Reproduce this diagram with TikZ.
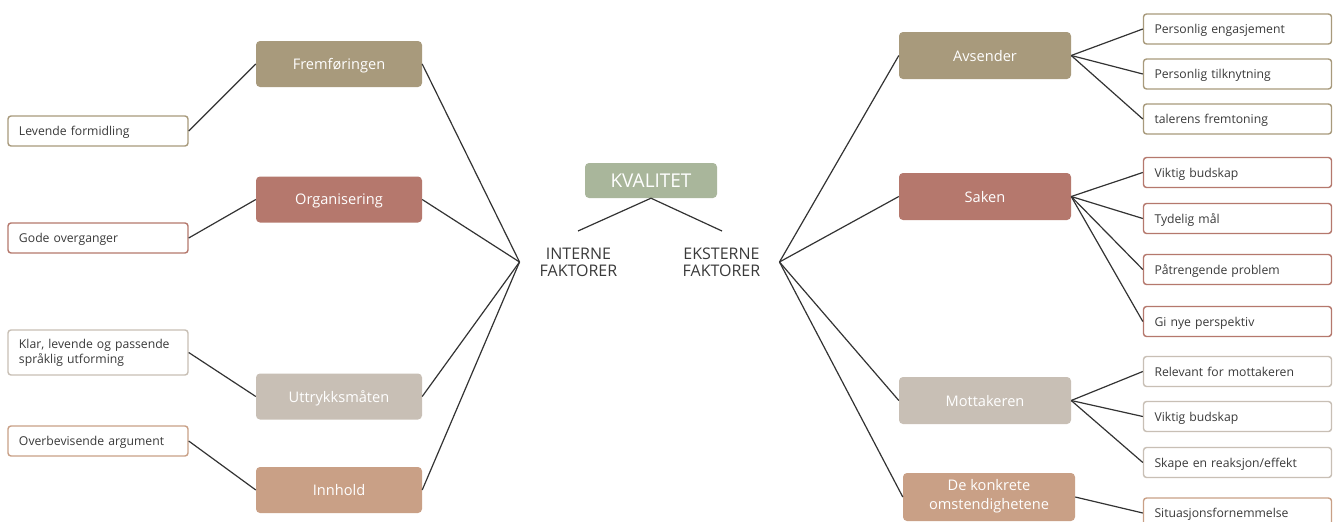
\documentclass[tikz,border=0pt]{standalone}
\usepackage{fontspec}
\setmainfont{Open Sans}
\usetikzlibrary{positioning}
\definecolor{brunC}{HTML}{A89A7C}
\definecolor{roedC}{HTML}{B5786D}
\definecolor{graaC}{HTML}{C8BFB5}
\definecolor{oransjeC}{HTML}{C9A086}
\definecolor{salvieC}{HTML}{A9B69B}
\definecolor{tekstC}{HTML}{3A3A3A}
\definecolor{strekC}{HTML}{333333}

\begin{document}
\begin{tikzpicture}[x=1pt,y=-1pt,
        hoved/.style = {rounded corners=4pt, text=white, minimum width=166pt, minimum height=46pt,
                        align=center, inner sep=2pt, text depth=0pt, font=\fontsize{14.6}{19}\selectfont},
        punkt/.style = {draw, line width=1.4pt, rounded corners=3pt, fill=white, text=tekstC,
                        minimum height=30pt, text width=158pt, inner xsep=11pt, align=left,
                        text depth=0pt, font=\fontsize{12.2}{14.5}\selectfont},
        punktH/.style = {punkt, text width=166pt},
        faktor/.style = {align=center, text=tekstC, font=\fontsize{16}{17}\selectfont},
        linje/.style = {draw=strekC, line width=1.2pt}]
        \fill[white] (0,0) rectangle (1336,522);
        \useasboundingbox (0,0) rectangle (1336,522);

        % midten
        \node[hoved,fill=salvieC,minimum width=132pt,minimum height=35pt,font=\fontsize{19}{20}\selectfont] (kval) at (651,180.5) {KVALITET};
        \coordinate (kvalV) at (578,231);
        \coordinate (kvalH) at (722,231);
        \node[faktor,inner xsep=20pt] (intern) at (578.5,262) {INTERNE\\FAKTORER};
        \node[faktor,inner xsep=19pt] (ekstern) at (721.5,262) {EKSTERNE\\FAKTORER};

        \draw[linje] (kvalV) -- (kval.south) -- (kvalH);

        % interne faktorer
        \node[hoved,fill=brunC] (frem) at (339,64) {Fremføringen};
        \node[hoved,fill=roedC] (org) at (339,199.5) {Organisering};
        \node[hoved,fill=graaC] (uttr) at (339,396.5) {Uttrykksmåten};
        \node[hoved,fill=oransjeC] (innh) at (339,490) {Innhold};

        \node[punkt,draw=brunC] (lev) at (98,131) {Levende formidling};
        \node[punkt,draw=roedC] (gode) at (98,238) {Gode overganger};
        \node[punkt,draw=graaC,minimum height=45pt,text depth=17pt] (klar) at (98,352.5) {Klar, levende og passende\\språklig utforming};
        \node[punkt,draw=oransjeC] (overb) at (98,441) {Overbevisende argument};

        \draw[linje] (lev.east) -- (frem.west);
        \draw[linje] (gode.east) -- (org.west);
        \draw[linje] (klar.east) -- (uttr.west);
        \draw[linje] (overb.east) -- (innh.west);

        \draw[linje] (frem.east) -- (intern.west);
        \draw[linje] (org.east) -- (intern.west);
        \draw[linje] (uttr.east) -- (intern.west);
        \draw[linje] (innh.east) -- (intern.west);

        % eksterne faktorer
        \node[hoved,fill=brunC,minimum width=172pt,minimum height=47pt] (avs) at (985,55.5) {Avsender};
        \node[hoved,fill=roedC,minimum width=172pt,minimum height=47pt] (sak) at (985,196.5) {Saken};
        \node[hoved,fill=graaC,minimum width=172pt,minimum height=47pt] (mott) at (985,400.5) {Mottakeren};
        \node[hoved,fill=oransjeC,minimum width=172pt,minimum height=48pt,text depth=6pt] (omst) at (989,497) {De konkrete\\omstendighetene};

        \draw[linje] (ekstern.east) -- (avs.west);
        \draw[linje] (ekstern.east) -- (sak.west);
        \draw[linje] (ekstern.east) -- (mott.west);
        \draw[linje] (ekstern.east) -- (omst.west);

        \node[punktH,draw=brunC] (eng) at (1237.5,29) {Personlig engasjement};
        \node[punktH,draw=brunC] (tilk) at (1237.5,74) {Personlig tilknytning};
        \node[punktH,draw=brunC] (frt) at (1237.5,119) {talerens fremtoning};

        \node[punktH,draw=roedC] (budA) at (1237.5,172.5) {Viktig budskap};
        \node[punktH,draw=roedC] (maal) at (1237.5,218.5) {Tydelig mål};
        \node[punktH,draw=roedC] (prob) at (1237.5,269.5) {Påtrengende problem};
        \node[punktH,draw=roedC] (persp) at (1237.5,321.5) {Gi nye perspektiv};

        \node[punktH,draw=graaC] (rel) at (1237.5,371.5) {Relevant for mottakeren};
        \node[punktH,draw=graaC] (budB) at (1237.5,416.5) {Viktig budskap};
        \node[punktH,draw=graaC] (reak) at (1237.5,462.5) {Skape en reaksjon/effekt};

        \node[punktH,draw=oransjeC] (sit) at (1237.5,513) {Situasjonsfornemmelse};

        \draw[linje] (avs.east) -- (eng.west);
        \draw[linje] (avs.east) -- (tilk.west);
        \draw[linje] (avs.east) -- (frt.west);
        \draw[linje] (sak.east) -- (budA.west);
        \draw[linje] (sak.east) -- (maal.west);
        \draw[linje] (sak.east) -- (prob.west);
        \draw[linje] (sak.east) -- (persp.west);
        \draw[linje] (mott.east) -- (rel.west);
        \draw[linje] (mott.east) -- (budB.west);
        \draw[linje] (mott.east) -- (reak.west);
        \draw[linje] (omst.east) -- (sit.west);
\end{tikzpicture}
\end{document}
